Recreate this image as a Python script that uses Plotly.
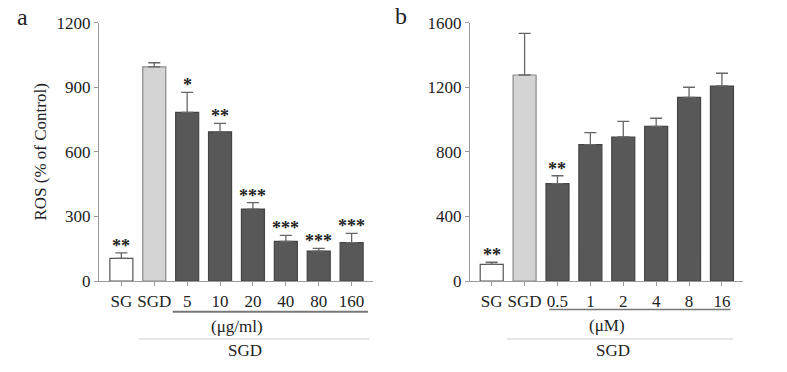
import plotly.graph_objects as go

# ---- data ----
cats_a = ["SG", "SGD", "5", "10", "20", "40", "80", "160"]
ros_a = [105, 995, 783, 693, 334, 184, 139, 178]
err_a = [26, 19, 93, 39, 30, 28, 13, 43]
stars_a = ["**", "", "*", "**", "***", "***", "***", "***"]

cats_b = ["SG", "SGD", "0.5", "1", "2", "4", "8", "16"]
ros_b = [103, 1276, 603, 845, 892, 958, 1138, 1208]
err_b = [13, 258, 49, 74, 97, 50, 62, 79]
stars_b = ["**", "", "**", "", "", "", "", ""]

unit_a = "(μg/ml)"
unit_b = "(μM)"
group_label = "SGD"

FONT = "Liberation Serif"
fills = ["#ffffff", "#d4d4d4"] + ["#585858"] * 6
edges = ["#555555", "#8a8a8a"] + ["#444444"] * 6

fig = go.Figure()
W, H = 787, 372


def px_x(p):
    return p / W


def px_y(p):
    return 1 - p / H


for i, (cats, vals, errs, stars, xa, ya) in enumerate(
    [(cats_a, ros_a, err_a, stars_a, "x", "y"), (cats_b, ros_b, err_b, stars_b, "x2", "y2")]
):
    xs = list(range(len(cats)))
    fig.add_trace(go.Bar(
        x=xs, y=vals, width=0.7, xaxis=xa, yaxis=ya,
        marker=dict(color=fills, line=dict(color=edges, width=1.2)),
        error_y=dict(type="data", array=errs, arrayminus=[0] * len(errs), symmetric=False,
                     color="#666666", thickness=1.3, width=6),
        showlegend=False, hoverinfo="skip",
    ))
    for xv, v, e, s in zip(xs, vals, errs, stars):
        if s:
            fig.add_annotation(x=xv, y=v + e, xref=xa, yref=ya, text="<b>" + s + "</b>",
                               showarrow=False, yanchor="bottom", yshift=-5,
                               font=dict(family=FONT, size=18, color="#222222"))

axis_common = dict(showgrid=False, zeroline=False, showline=True, linecolor="#9a9a9a",
                   linewidth=1.2, ticks="outside", ticklen=4, tickcolor="#9a9a9a",
                   automargin=False,
                   tickfont=dict(family=FONT, size=17, color="#222222"))

ydom = [px_y(281), px_y(22.7)]
fig.update_layout(
    template="none",
    width=W, height=H, margin=dict(l=0, r=0, t=0, b=0, pad=0),
    paper_bgcolor="white", plot_bgcolor="white",
    xaxis=dict(domain=[px_x(99), px_x(373)], range=[-0.68, 7.65],
               tickvals=list(range(8)), ticktext=cats_a, anchor="y", **axis_common),
    yaxis=dict(domain=ydom, range=[0, 1200], tickvals=[0, 300, 600, 900, 1200], anchor="x",
               title=dict(text="ROS (% of Control)", font=dict(family=FONT, size=17, color="#222222"),
                          standoff=5),
               **axis_common),
    xaxis2=dict(domain=[px_x(470), px_x(743)], range=[-0.66, 7.64],
                tickvals=list(range(8)), ticktext=cats_b, anchor="y2", **axis_common),
    yaxis2=dict(domain=ydom, range=[0, 1600], tickvals=[0, 400, 800, 1200, 1600], anchor="x2",
                **axis_common),
)

# bracket lines
shapes = [
    dict(type="line", xref="x", yref="paper", x0=1.56, x1=7.5, y0=px_y(311.7), y1=px_y(311.7),
         line=dict(color="#777777", width=2)),
    dict(type="line", xref="x", yref="paper", x0=0.53, x1=7.53, y0=px_y(339), y1=px_y(339),
         line=dict(color="#dddddd", width=1.5)),
    dict(type="line", xref="x2", yref="paper", x0=1.75, x1=7.26, y0=px_y(309.5), y1=px_y(309.5),
         line=dict(color="#777777", width=1.5)),
    dict(type="line", xref="x2", yref="paper", x0=0.47, x1=7.33, y0=px_y(339), y1=px_y(339),
         line=dict(color="#dddddd", width=1.5)),
]
fig.update_layout(shapes=shapes)

for x, y, t, sz in [(237, 326, unit_a, 17), (245, 350, group_label, 17),
                    (607, 325, unit_b, 17), (613, 350, group_label, 17),
                    (22, 17, "a", 24), (401, 16, "b", 24)]:
    fig.add_annotation(x=px_x(x), y=px_y(y), xref="paper", yref="paper", text=t, showarrow=False,
                       xanchor="center", yanchor="middle",
                       font=dict(family=FONT, size=sz, color="#222222"))

fig.write_html("out.html")
